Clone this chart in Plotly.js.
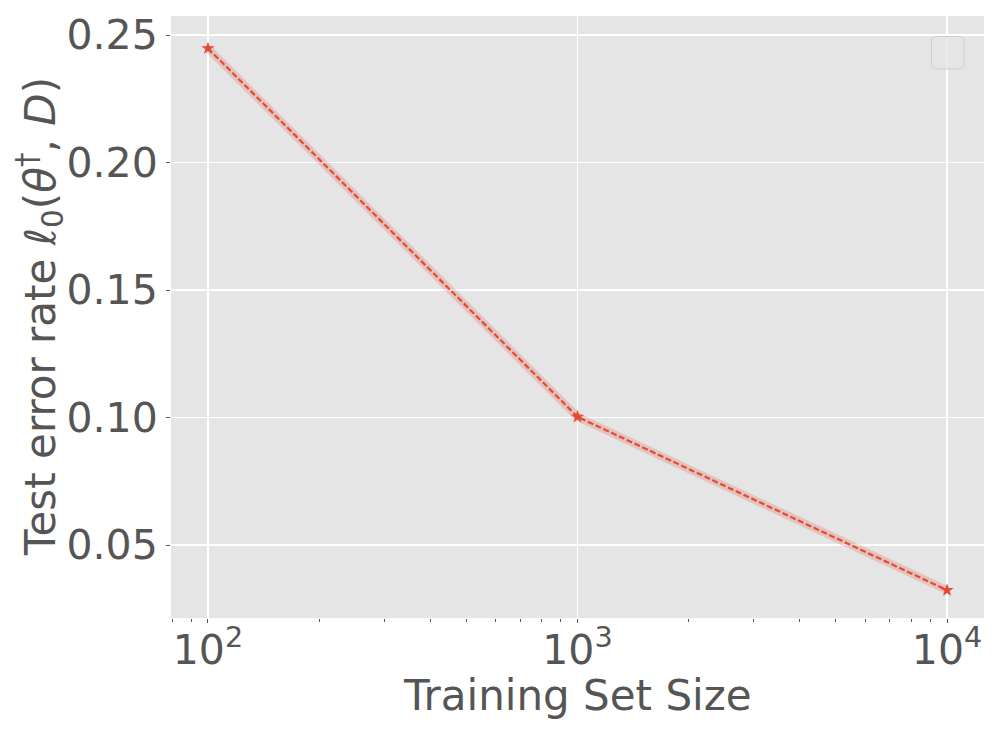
<!DOCTYPE html>
<html>
<head>
<meta charset="utf-8">
<script src="https://cdn.plot.ly/plotly-3.0.1.min.js"></script>
<style>html,body{margin:0;padding:0;background:#fff}#chart{width:1000px;height:730px}</style>
</head>
<body>
<div id="chart"></div>
<script>
// Data
const trainSizes = [100, 1000, 10000];
const testError = [0.2448, 0.1003, 0.0323];
const xTickVals = [100, 1000, 10000];
const xTickText = ['10<sup>2</sup>', '10<sup>3</sup>', '10<sup>4</sup>'];
const yTickVals = [0.05, 0.10, 0.15, 0.20, 0.25];
const xTitle = 'Training Set Size';
const yTitle = 'Test error rate <i>ℓ</i><sub>0</sub>(<i>θ</i><sup>†</sup>, <i>D</i>)';

const red = '#E24A33';
const txt = '#555555';
const font = 'DejaVu Sans, sans-serif';

const traces = [
  { // shaded band
    x: trainSizes, y: testError, type: 'scatter', mode: 'lines',
    line: {color: 'rgba(226,74,51,0.22)', width: 8},
    hoverinfo: 'skip', showlegend: false
  },
  {
    x: trainSizes, y: testError, type: 'scatter', mode: 'lines+markers',
    line: {color: red, width: 2.2, dash: '6px,2.6px'},
    marker: {symbol: 'star', size: 10, color: red},
    showlegend: false
  }
];

// legend box (empty) in paper coords
const L = 171, T = 16, W = 813, H = 602;
function px(x){return (x - L)/W;}
function py(y){return (T + H - y)/H;}
const bx0 = 931.5, bx1 = 964, by0 = 36.5, by1 = 69, r = 5;
const rx = r/W, ry = r/H;
const X0=px(bx0), X1=px(bx1), Y0=py(by1), Y1=py(by0);
const legendPath = `M ${X0+rx},${Y0} L ${X1-rx},${Y0} Q ${X1},${Y0} ${X1},${Y0+ry} L ${X1},${Y1-ry} Q ${X1},${Y1} ${X1-rx},${Y1} L ${X0+rx},${Y1} Q ${X0},${Y1} ${X0},${Y1-ry} L ${X0},${Y0+ry} Q ${X0},${Y0} ${X0+rx},${Y0} Z`;

const layout = {
  width: 1000, height: 730,
  margin: {l: L, r: 1000 - L - W, t: T, b: 730 - T - H},
  paper_bgcolor: '#ffffff',
  plot_bgcolor: '#E5E5E5',
  font: {family: font, color: txt, size: 41},
  showlegend: false,
  xaxis: {
    type: 'log', range: [1.9, 4.1],
    tickvals: xTickVals, ticktext: xTickText,
    ticks: 'outside', ticklen: 4, tickwidth: 1, tickcolor: txt,
    ticklabelstandoff: -8,
    showgrid: true, gridcolor: '#ffffff', gridwidth: 1.4,
    zeroline: false, showline: false,
    tickfont: {family: font, size: 41, color: txt},
    minor: {ticks: 'outside', ticklen: 2.5, tickwidth: 1, tickcolor: txt, dtick: 'D1', showgrid: false}
  },
  yaxis: {
    range: [0.0214, 0.2575],
    tickvals: yTickVals, tickformat: '.2f',
    ticks: 'outside', ticklen: 4, tickwidth: 1, tickcolor: txt,
    showgrid: true, gridcolor: '#ffffff', gridwidth: 1.4,
    zeroline: false, showline: false,
    tickfont: {family: font, size: 41, color: txt}
  },
  annotations: [
    {text: xTitle, xref: 'paper', yref: 'paper', x: 0.5, y: py(695), xanchor: 'center', yanchor: 'middle',
     showarrow: false, font: {family: font, size: 42, color: txt}},
    {text: yTitle, xref: 'paper', yref: 'paper', x: px(40), y: 0.5, xanchor: 'center', yanchor: 'middle',
     textangle: -90, showarrow: false, font: {family: font, size: 42, color: txt}}
  ],
  shapes: [{
    type: 'path', xref: 'paper', yref: 'paper', path: legendPath,
    fillcolor: 'rgba(229,229,229,0.8)', line: {color: 'rgba(200,200,200,0.8)', width: 1}, layer: 'above'
  }]
};

Plotly.newPlot('chart', traces, layout, {displayModeBar: false, staticPlot: true});
</script>
</body>
</html>
